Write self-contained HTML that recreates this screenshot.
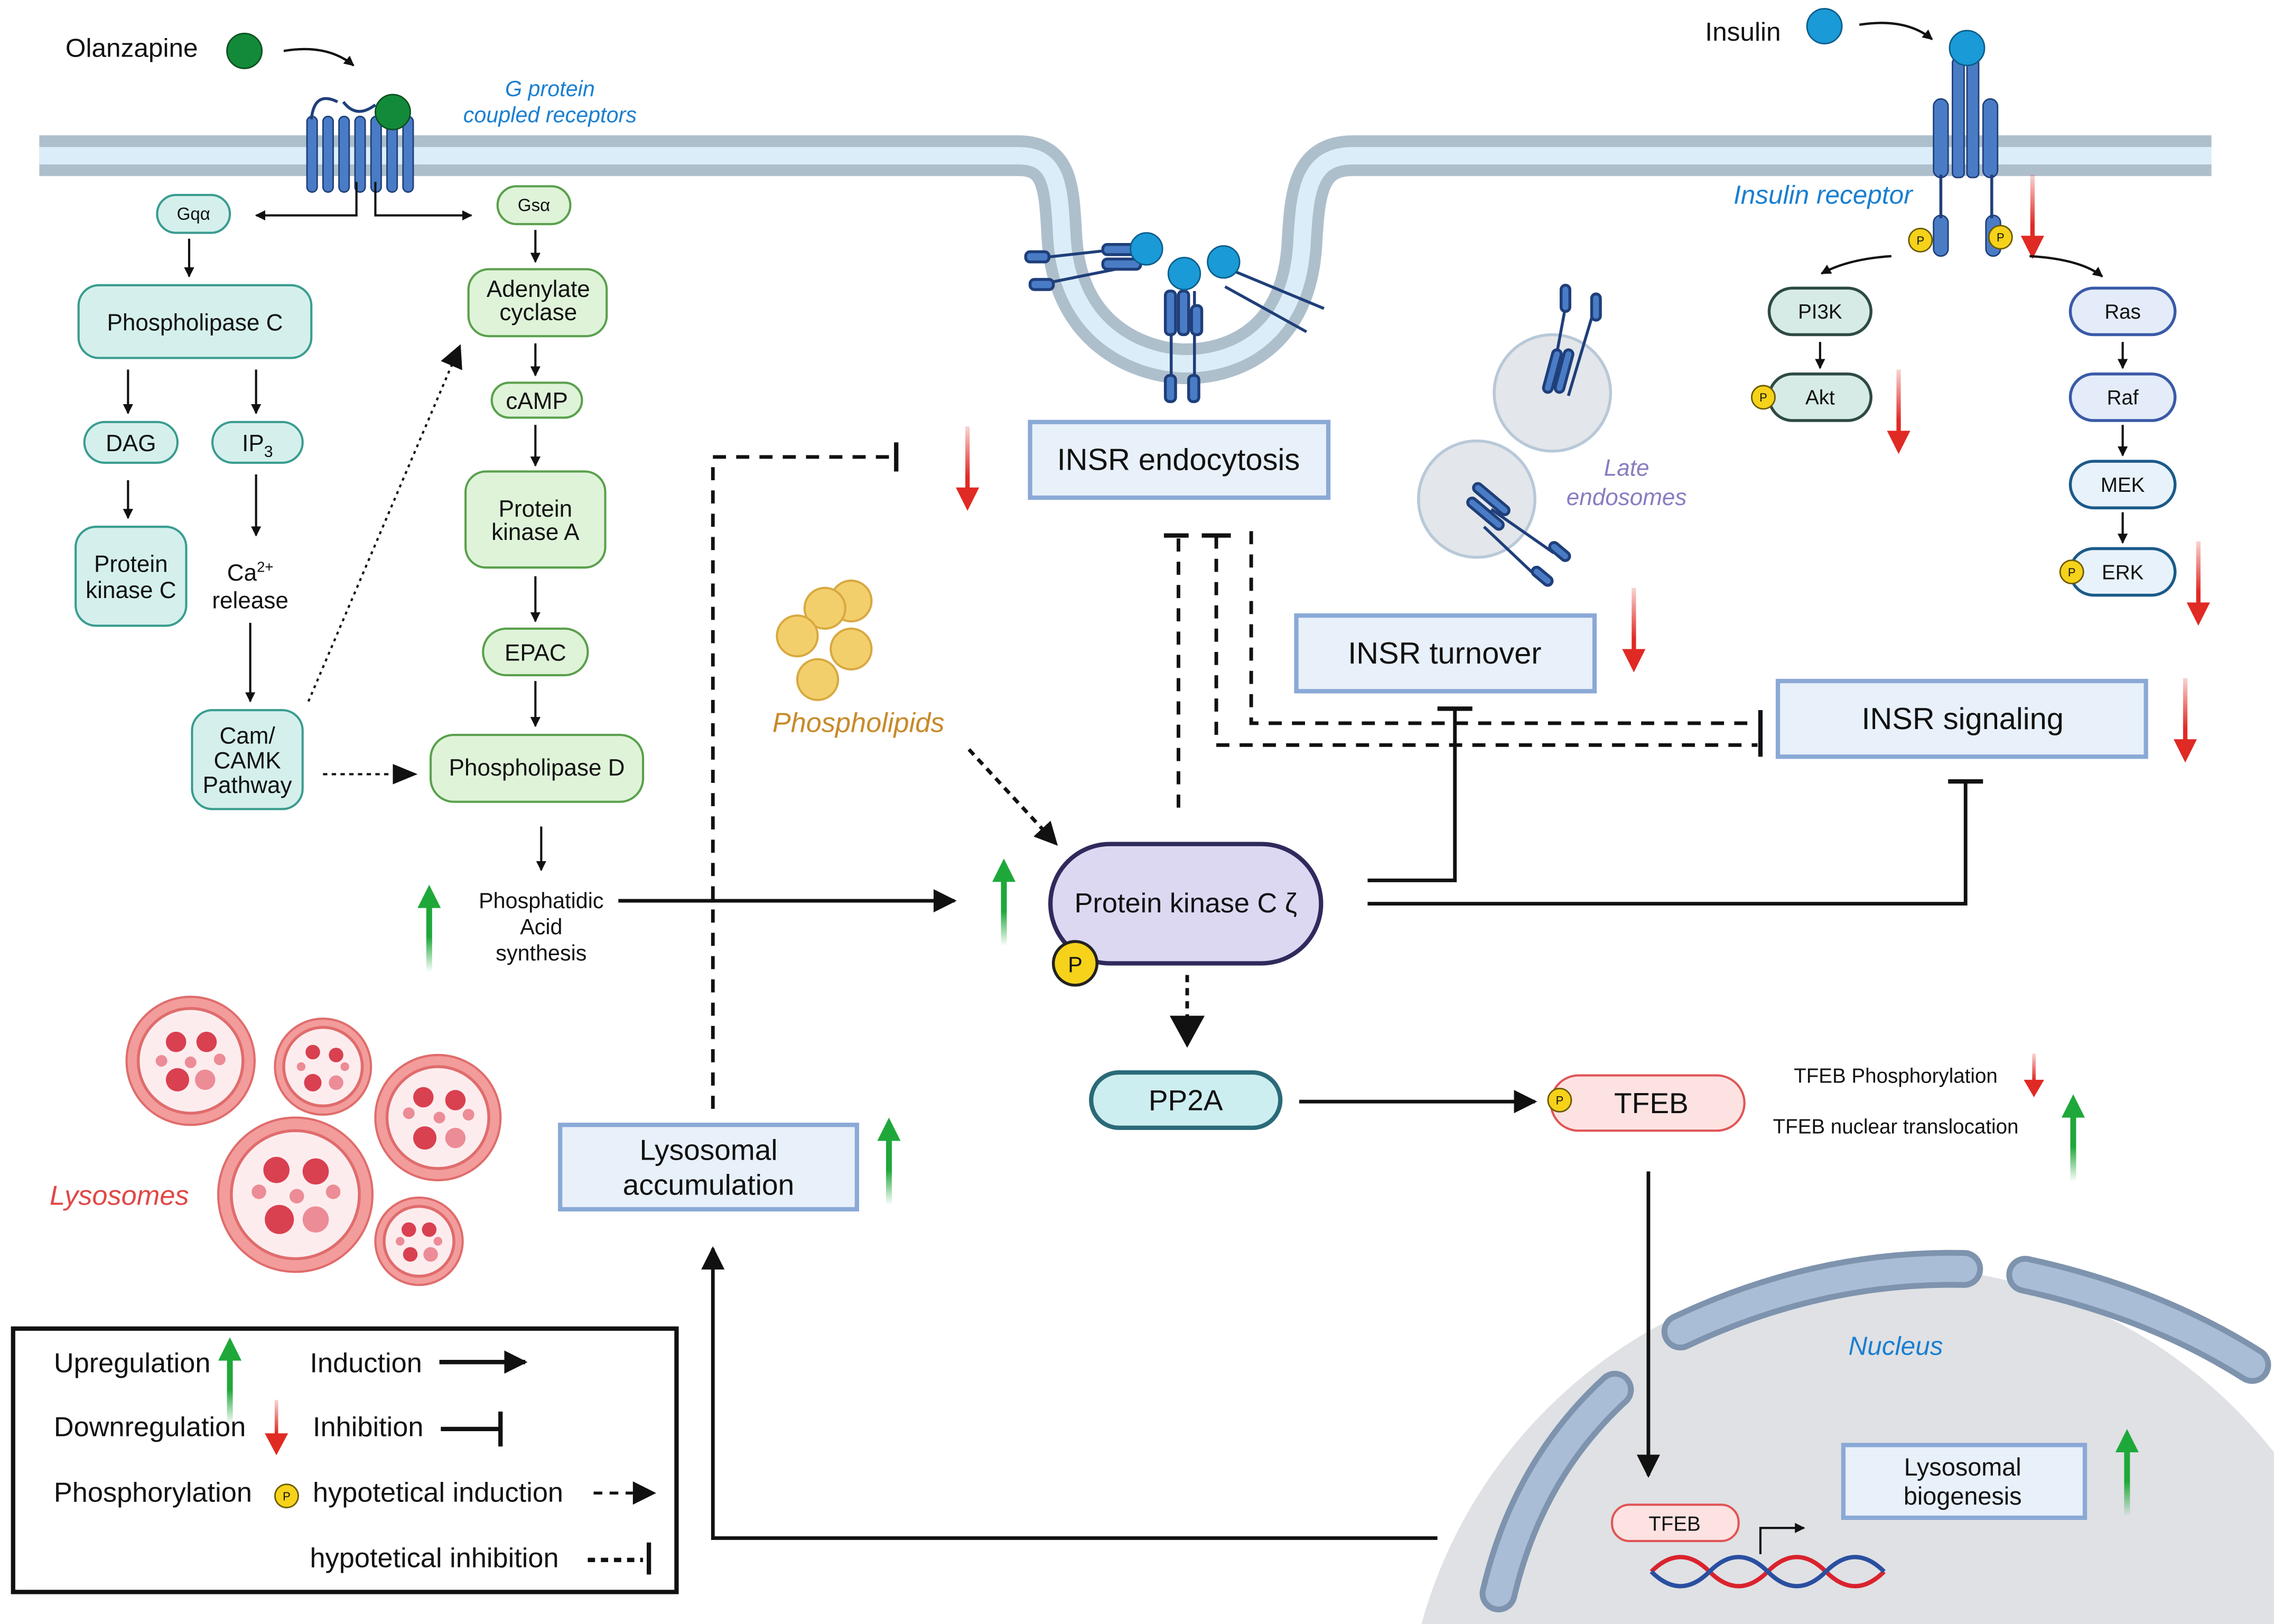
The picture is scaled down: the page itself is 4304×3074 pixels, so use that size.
<!DOCTYPE html>
<html><head><meta charset="utf-8"><style>
html,body{margin:0;padding:0;background:#fff;width:4304px;height:3074px;overflow:hidden}
svg{display:block}
text{font-family:"Liberation Sans",sans-serif;fill:#111}
</style></head><body>
<svg width="4304" height="3074" viewBox="0 0 1563 1116" preserveAspectRatio="none" xmlns="http://www.w3.org/2000/svg" style="overflow:hidden">
<defs>
<marker id="a" viewBox="0 0 10 10" refX="9" refY="5" markerWidth="7" markerHeight="7" markerUnits="userSpaceOnUse" orient="auto"><path d="M0,0L10,5L0,10z" fill="#111"/></marker>
<marker id="A" viewBox="0 0 10 10" refX="9" refY="5" markerWidth="16" markerHeight="16" markerUnits="userSpaceOnUse" orient="auto"><path d="M0,0L10,5L0,10z" fill="#111"/></marker>
<linearGradient id="gu" x1="0" y1="1" x2="0" y2="0"><stop offset="0" stop-color="#1fa83a" stop-opacity="0"/><stop offset="0.4" stop-color="#1fa83a"/></linearGradient>
<linearGradient id="rd" x1="0" y1="0" x2="0" y2="1"><stop offset="0" stop-color="#e02a24" stop-opacity="0.2"/><stop offset="0.6" stop-color="#e02a24"/></linearGradient>
<g id="up"><path d="M0,0 L-8,16 L-2,16 L-2,60 L2,60 L2,16 L8,16z" fill="url(#gu)"/></g>
<g id="dn"><path d="M-1.5,0 L1.5,0 L1.5,42 L8,42 L0,58 L-8,42 L-1.5,42z" fill="url(#rd)"/></g>
<g id="dns"><path d="M-1.2,0 L1.2,0 L1.2,18 L7,18 L0,30 L-7,18 L-1.2,18z" fill="url(#rd)"/></g>
<g id="P"><circle r="8" fill="#f6d21a" stroke="#6b5a00" stroke-width="1"/><text y="3" font-size="8" text-anchor="middle">P</text></g>
</defs>

<!-- Nucleus -->
<path d="M977,1116 A335,335 0 0 1 1563,998 L1563,1116 Z" fill="#dfe1e4"/>
<g fill="none" stroke-linecap="round">
<path d="M1030,1095 Q1050,1010 1110,955" stroke="#7e93ad" stroke-width="26"/>
<path d="M1030,1095 Q1050,1010 1110,955" stroke="#a9bdd6" stroke-width="18"/>
<path d="M1155,915 Q1250,870 1350,872" stroke="#7e93ad" stroke-width="26"/>
<path d="M1155,915 Q1250,870 1350,872" stroke="#a9bdd6" stroke-width="18"/>
<path d="M1392,876 Q1480,895 1548,938" stroke="#7e93ad" stroke-width="26"/>
<path d="M1392,876 Q1480,895 1548,938" stroke="#a9bdd6" stroke-width="18"/>
</g>
<text x="1303" y="931" font-size="18" font-style="italic" text-anchor="middle" style="fill:#1a7fd0">Nucleus</text>

<!-- Membrane -->
<g fill="none">
<path d="M27,107 L700,107 C728,107 728,130 730,165 C735,235 790,250 815,250 C845,250 892,235 895,165 C897,130 900,107 930,107 L1520,107" stroke="#aebfcc" stroke-width="28"/>
<path d="M27,107 L700,107 C728,107 728,130 730,165 C735,235 790,250 815,250 C845,250 892,235 895,165 C897,130 900,107 930,107 L1520,107" stroke="#dcedfa" stroke-width="12"/>
</g>

<!-- GPCR -->
<g fill="#4a7cc6" stroke="#1f3f7a" stroke-width="1">
<rect x="211" y="80" width="7" height="52" rx="3.5"/><rect x="222" y="80" width="7" height="52" rx="3.5"/><rect x="233" y="80" width="7" height="52" rx="3.5"/><rect x="244" y="80" width="7" height="52" rx="3.5"/><rect x="255" y="80" width="7" height="52" rx="3.5"/><rect x="266" y="80" width="7" height="52" rx="3.5"/><rect x="277" y="80" width="7" height="52" rx="3.5"/>
</g>
<path d="M214,82 Q216,62 232,70 M236,70 Q245,82 258,72" stroke="#1f3f7a" stroke-width="2" fill="none"/>
<circle cx="270" cy="77" r="12" fill="#138a3a" stroke="#0b4f20"/>
<text x="45" y="39" font-size="18">Olanzapine</text>
<circle cx="168" cy="35" r="12" fill="#138a3a" stroke="#0b4f20"/>
<path d="M195,35 Q225,30 243,45" stroke="#111" stroke-width="1.6" fill="none" marker-end="url(#a)"/>
<text x="378" y="66" font-size="15" font-style="italic" text-anchor="middle" style="fill:#1a7fd0">G protein</text>
<text x="378" y="84" font-size="15" font-style="italic" text-anchor="middle" style="fill:#1a7fd0">coupled receptors</text>

<!-- Insulin receptor -->
<text x="1172" y="28" font-size="18">Insulin</text>
<circle cx="1254" cy="18" r="12" fill="#1a9ad6" stroke="#0d5c8a"/>
<path d="M1278,17 Q1310,12 1328,27" stroke="#111" stroke-width="1.6" fill="none" marker-end="url(#a)"/>
<g fill="#4a7cc6" stroke="#1f3f7a" stroke-width="1">
<rect x="1342" y="40" width="8" height="82" rx="3"/><rect x="1352" y="40" width="8" height="82" rx="3"/>
<rect x="1329" y="68" width="10" height="54" rx="5"/><rect x="1363" y="68" width="10" height="54" rx="5"/>
<rect x="1329" y="148" width="10" height="28" rx="5"/><rect x="1365" y="148" width="10" height="28" rx="5"/>
</g>
<path d="M1334,120 V150 M1369,120 V150" stroke="#1f3f7a" stroke-width="2"/>
<circle cx="1352" cy="33" r="12" fill="#1a9ad6" stroke="#0d5c8a"/>
<use href="#P" x="1320" y="165"/><use href="#P" x="1375" y="163"/>
<text x="1253" y="140" font-size="18" font-style="italic" text-anchor="middle" style="fill:#1a7fd0">Insulin receptor</text>
<use href="#dn" x="1397" y="120"/>
<path d="M1300,176 Q1270,178 1252,188" stroke="#111" stroke-width="1.6" fill="none" marker-end="url(#a)"/>
<path d="M1395,176 Q1430,178 1445,190" stroke="#111" stroke-width="1.6" fill="none" marker-end="url(#a)"/>

<!-- endocytosis receptors -->
<g stroke="#1f3f7a" stroke-width="2" fill="#4a7cc6">
<line x1="708" y1="178" x2="780" y2="170"/><line x1="712" y1="196" x2="782" y2="182"/>
<rect x="758" y="168" width="26" height="7" rx="3"/><rect x="758" y="178" width="26" height="7" rx="3"/>
<line x1="805" y1="200" x2="805" y2="272"/><line x1="821" y1="200" x2="821" y2="272"/>
<rect x="801" y="200" width="7" height="30" rx="3"/><rect x="810" y="200" width="7" height="30" rx="3"/><rect x="819" y="210" width="7" height="20" rx="3"/>
<rect x="801" y="258" width="7" height="18" rx="3"/><rect x="817" y="258" width="7" height="18" rx="3"/>
<line x1="845" y1="185" x2="910" y2="212"/><line x1="842" y1="197" x2="898" y2="228"/>
<rect x="705" y="173" width="16" height="7" rx="3"/><rect x="708" y="192" width="16" height="7" rx="3"/>
</g>
<circle cx="788" cy="171" r="11" fill="#1a9ad6" stroke="#0d5c8a"/>
<circle cx="814" cy="188" r="11" fill="#1a9ad6" stroke="#0d5c8a"/>
<circle cx="841" cy="180" r="11" fill="#1a9ad6" stroke="#0d5c8a"/>

<!-- late endosomes -->
<circle cx="1067" cy="270" r="40" fill="#e3e6ea" stroke="#b8c8d8" stroke-width="2"/>
<circle cx="1015" cy="343" r="40" fill="#e3e6ea" stroke="#b8c8d8" stroke-width="2"/>
<g stroke="#1f3f7a" stroke-width="2" fill="#4a7cc6">
<line x1="1078" y1="200" x2="1065" y2="270"/><line x1="1098" y1="205" x2="1078" y2="272"/>
<rect x="1073" y="196" width="6" height="18" rx="3"/><rect x="1094" y="202" width="6" height="18" rx="3"/>
<rect x="1064" y="240" width="6" height="30" rx="3" transform="rotate(15 1067 255)"/><rect x="1072" y="240" width="6" height="30" rx="3" transform="rotate(15 1075 255)"/>
<line x1="1025" y1="350" x2="1068" y2="380"/><line x1="1020" y1="362" x2="1058" y2="398"/>
<rect x="1010" y="340" width="30" height="6" rx="3" transform="rotate(40 1025 343)"/><rect x="1006" y="350" width="30" height="6" rx="3" transform="rotate(40 1021 353)"/>
<rect x="1064" y="376" width="16" height="6" rx="3" transform="rotate(40 1072 379)"/><rect x="1052" y="393" width="16" height="6" rx="3" transform="rotate(40 1060 396)"/>
</g>
<text x="1118" y="327" font-size="16" font-style="italic" text-anchor="middle" style="fill:#8a7cc0">Late</text>
<text x="1118" y="347" font-size="16" font-style="italic" text-anchor="middle" style="fill:#8a7cc0">endosomes</text>

<!-- left teal column -->
<g fill="#d5f0ec" stroke="#3a9c90" stroke-width="1.5">
<rect x="108" y="134" width="50" height="26" rx="13"/>
<rect x="54" y="196" width="160" height="50" rx="14"/>
<rect x="58" y="290" width="64" height="28" rx="14"/>
<rect x="146" y="290" width="62" height="28" rx="14"/>
<rect x="52" y="362" width="76" height="68" rx="14"/>
<rect x="132" y="488" width="76" height="68" rx="14"/>
</g>
<text x="133" y="151" font-size="12" text-anchor="middle">Gqα</text>
<text x="134" y="227" font-size="16" text-anchor="middle">Phospholipase C</text>
<text x="90" y="310" font-size="16" text-anchor="middle">DAG</text>
<text x="177" y="310" font-size="16" text-anchor="middle">IP<tspan font-size="11" dy="4">3</tspan></text>
<text x="90" y="393" font-size="16" text-anchor="middle">Protein</text>
<text x="90" y="411" font-size="16" text-anchor="middle">kinase C</text>
<text x="170" y="511" font-size="16" text-anchor="middle">Cam/</text>
<text x="170" y="528" font-size="16" text-anchor="middle">CAMK</text>
<text x="170" y="545" font-size="16" text-anchor="middle">Pathway</text>
<text x="172" y="399" font-size="16" text-anchor="middle">Ca<tspan font-size="10" dy="-6">2+</tspan></text>
<text x="172" y="418" font-size="16" text-anchor="middle">release</text>

<!-- green column -->
<g fill="#dff3d9" stroke="#5aa04c" stroke-width="1.5">
<rect x="342" y="128" width="50" height="26" rx="13"/>
<rect x="322" y="185" width="95" height="46" rx="14"/>
<rect x="338" y="263" width="62" height="24" rx="12"/>
<rect x="320" y="324" width="96" height="66" rx="14"/>
<rect x="332" y="432" width="72" height="32" rx="16"/>
<rect x="296" y="505" width="146" height="46" rx="16"/>
</g>
<text x="367" y="145" font-size="12" text-anchor="middle">Gsα</text>
<text x="370" y="204" font-size="16" text-anchor="middle">Adenylate</text>
<text x="370" y="220" font-size="16" text-anchor="middle">cyclase</text>
<text x="369" y="281" font-size="16" text-anchor="middle">cAMP</text>
<text x="368" y="355" font-size="16" text-anchor="middle">Protein</text>
<text x="368" y="371" font-size="16" text-anchor="middle">kinase A</text>
<text x="368" y="454" font-size="16" text-anchor="middle">EPAC</text>
<text x="369" y="533" font-size="16" text-anchor="middle">Phospholipase D</text>
<text x="372" y="624" font-size="15" text-anchor="middle">Phosphatidic</text>
<text x="372" y="642" font-size="15" text-anchor="middle">Acid</text>
<text x="372" y="660" font-size="15" text-anchor="middle">synthesis</text>

<!-- small arrows -->
<g stroke="#111" stroke-width="1.5" fill="none" marker-end="url(#a)">
<path d="M245,125 V148 H176"/><path d="M258,125 V148 H324"/>
<path d="M130,164 V190"/><path d="M88,254 V284"/><path d="M176,254 V284"/>
<path d="M88,330 V356"/><path d="M176,326 V368"/><path d="M172,428 V482"/>
<path d="M368,158 V180"/><path d="M368,236 V258"/><path d="M368,292 V320"/>
<path d="M368,396 V427"/><path d="M368,468 V499"/><path d="M372,568 V598"/>
<path d="M1251,235 V253"/><path d="M1459,235 V253"/><path d="M1459,292 V313"/><path d="M1459,352 V373"/>
<path d="M212,482 L316,238" stroke-dasharray="2,3" marker-end="url(#A)"/>
</g>
<path d="M222,532 H270" stroke="#111" stroke-width="1.5" stroke-dasharray="3,3" fill="none"/>
<path d="M270,525 L287,532 L270,539z" fill="#111"/>

<!-- right path pills -->
<g stroke-width="2">
<rect x="1216" y="198" width="70" height="32" rx="16" fill="#d7ebe6" stroke="#2e4a44"/>
<rect x="1216" y="257" width="70" height="32" rx="16" fill="#d7ebe6" stroke="#2e4a44"/>
<rect x="1423" y="198" width="72" height="32" rx="16" fill="#e3ecf8" stroke="#3a5aa8"/>
<rect x="1423" y="257" width="72" height="32" rx="16" fill="#e3ecf8" stroke="#3a5aa8"/>
<rect x="1423" y="317" width="72" height="32" rx="16" fill="#e8f2fa" stroke="#1b5a8a"/>
<rect x="1423" y="377" width="72" height="32" rx="16" fill="#e8f2fa" stroke="#1b5a8a"/>
</g>
<text x="1251" y="219" font-size="14" text-anchor="middle">PI3K</text>
<text x="1251" y="278" font-size="14" text-anchor="middle">Akt</text>
<text x="1459" y="219" font-size="14" text-anchor="middle">Ras</text>
<text x="1459" y="278" font-size="14" text-anchor="middle">Raf</text>
<text x="1459" y="338" font-size="14" text-anchor="middle">MEK</text>
<text x="1459" y="398" font-size="14" text-anchor="middle">ERK</text>
<use href="#P" x="1212" y="273"/><use href="#P" x="1424" y="393"/>

<!-- blue boxes -->
<g fill="#e8f0fa" stroke="#8aa9d6" stroke-width="3">
<rect x="708" y="290" width="205" height="52"/>
<rect x="891" y="423" width="205" height="52"/>
<rect x="1222" y="468" width="253" height="52"/>
<rect x="385" y="773" width="204" height="58"/>
<rect x="1267" y="993" width="166" height="50"/>
</g>
<text x="810" y="323" font-size="21" text-anchor="middle">INSR endocytosis</text>
<text x="993" y="456" font-size="21" text-anchor="middle">INSR turnover</text>
<text x="1349" y="501" font-size="21" text-anchor="middle">INSR signaling</text>
<text x="487" y="797" font-size="20" text-anchor="middle">Lysosomal</text>
<text x="487" y="821" font-size="20" text-anchor="middle">accumulation</text>
<text x="1349" y="1014" font-size="17" text-anchor="middle">Lysosomal</text>
<text x="1349" y="1034" font-size="17" text-anchor="middle">biogenesis</text>

<!-- Phospholipids -->
<g fill="#f3cf6c" stroke="#d8a940" stroke-width="1.5">
<circle cx="585" cy="413" r="14"/><circle cx="567" cy="418" r="14"/><circle cx="548" cy="437" r="14"/><circle cx="585" cy="446" r="14"/><circle cx="562" cy="467" r="14"/>
</g>
<text x="590" y="503" font-size="19" font-style="italic" text-anchor="middle" style="fill:#c88a2a">Phospholipids</text>
<path d="M666,515 L726,580" stroke="#111" stroke-width="2.5" stroke-dasharray="5,4" fill="none" marker-end="url(#A)"/>

<!-- PKC zeta -->
<rect x="722" y="580" width="186" height="82" rx="41" fill="#dcd8f2" stroke="#2f2a5c" stroke-width="3"/>
<text x="815" y="627" font-size="19" text-anchor="middle">Protein kinase C ζ</text>
<circle cx="739" cy="662" r="15" fill="#f6d21a" stroke="#222" stroke-width="2"/>
<text x="739" y="668" font-size="15" text-anchor="middle">P</text>

<path d="M425,619 H656" stroke="#111" stroke-width="2.5" fill="none" marker-end="url(#A)"/>

<!-- PP2A, TFEB -->
<rect x="750" y="737" width="130" height="38" rx="19" fill="#cdeef0" stroke="#2a6a78" stroke-width="3"/>
<text x="815" y="763" font-size="20" text-anchor="middle">PP2A</text>
<path d="M816,670 V700" stroke="#111" stroke-width="2.5" stroke-dasharray="5,4"/>
<path d="M804,698 L828,698 L816,720z" fill="#111"/>
<rect x="1066" y="739" width="133" height="38" rx="19" fill="#fde2e2" stroke="#e05555" stroke-width="1.5"/>
<text x="1135" y="765" font-size="20" text-anchor="middle">TFEB</text>
<use href="#P" x="1072" y="756"/>
<path d="M893,757 H1055" stroke="#111" stroke-width="2.5" fill="none" marker-end="url(#A)"/>
<text x="1303" y="744" font-size="14" text-anchor="middle">TFEB Phosphorylation</text>
<text x="1303" y="779" font-size="14" text-anchor="middle">TFEB nuclear translocation</text>
<path d="M1133,805 V1014" stroke="#111" stroke-width="2.5" fill="none" marker-end="url(#A)"/>

<!-- nucleus TFEB + DNA -->
<rect x="1108" y="1034" width="87" height="25" rx="12" fill="#fde2e2" stroke="#e05555" stroke-width="1.5"/>
<text x="1151" y="1052" font-size="14" text-anchor="middle">TFEB</text>
<path d="M1210,1068 V1050 H1240" stroke="#111" stroke-width="1.5" fill="none" marker-end="url(#a)"/>
<path d="M1135,1080 Q1155,1060 1175,1080 T1215,1080 T1255,1080 T1295,1080" stroke="#d9232e" stroke-width="3" fill="none"/>
<path d="M1135,1080 Q1155,1100 1175,1080 T1215,1080 T1255,1080 T1295,1080" stroke="#2a4fa0" stroke-width="3" fill="none"/>

<!-- feedback arrows -->
<path d="M988,1057 H490 V858" stroke="#111" stroke-width="2.5" fill="none" marker-end="url(#A)"/>
<path d="M490,762 V314 H614" stroke="#111" stroke-width="2.5" stroke-dasharray="9,7" fill="none"/>
<path d="M616,304 V324" stroke="#111" stroke-width="3"/>
<g stroke="#111" stroke-width="2.5" fill="none" stroke-dasharray="9,7">
<path d="M810,555 V368"/><path d="M836,368 V512 H1208"/><path d="M860,365 V497 H1208"/>
</g>
<path d="M800,368 H817 M826,368 H846" stroke="#111" stroke-width="3"/>
<path d="M1210,488 V520" stroke="#111" stroke-width="3"/>
<path d="M940,605 H1000 V487" stroke="#111" stroke-width="2.5" fill="none"/>
<path d="M988,487 H1012" stroke="#111" stroke-width="3"/>
<path d="M940,621 H1351 V537" stroke="#111" stroke-width="2.5" fill="none"/>
<path d="M1339,537 H1363" stroke="#111" stroke-width="3"/>

<!-- up/down arrows -->
<use href="#up" x="295" y="608"/><use href="#up" x="690" y="590"/><use href="#up" x="611" y="768"/>
<use href="#up" x="1425" y="752"/><use href="#up" x="1462" y="982"/>
<use href="#dn" x="665" y="293"/><use href="#dn" x="1305" y="254"/><use href="#dn" x="1511" y="372"/>
<use href="#dn" x="1123" y="404"/><use href="#dn" x="1502" y="466"/>
<use href="#dns" x="1398" y="724"/>

<!-- lysosomes -->
<g>
<g transform="translate(131,729)"><circle r="44" fill="#f39c9c" stroke="#e06c6c" stroke-width="1.5"/><circle r="36" fill="#fdecee" stroke="#e06c6c" stroke-width="2"/><circle cx="-10" cy="-13" r="7" fill="#d94050"/><circle cx="11" cy="-13" r="7" fill="#d94050"/><circle cx="-9" cy="13" r="8" fill="#d94050"/><circle cx="10" cy="13" r="7" fill="#ec8c96"/><circle cx="-20" cy="0" r="4" fill="#ec8c96"/><circle cx="0" cy="1" r="4" fill="#ec8c96"/><circle cx="20" cy="-1" r="4" fill="#ec8c96"/></g>
<g transform="translate(222,733)"><circle r="33" fill="#f39c9c" stroke="#e06c6c" stroke-width="1.5"/><circle r="27" fill="#fdecee" stroke="#e06c6c" stroke-width="2"/><circle cx="-7" cy="-10" r="5" fill="#d94050"/><circle cx="9" cy="-8" r="5" fill="#d94050"/><circle cx="-7" cy="11" r="6" fill="#d94050"/><circle cx="9" cy="11" r="5" fill="#ec8c96"/><circle cx="-15" cy="0" r="3" fill="#ec8c96"/><circle cx="15" cy="0" r="3" fill="#ec8c96"/></g>
<g transform="translate(301,768)"><circle r="43" fill="#f39c9c" stroke="#e06c6c" stroke-width="1.5"/><circle r="35" fill="#fdecee" stroke="#e06c6c" stroke-width="2"/><circle cx="-10" cy="-14" r="7" fill="#d94050"/><circle cx="12" cy="-12" r="7" fill="#d94050"/><circle cx="-9" cy="14" r="8" fill="#d94050"/><circle cx="12" cy="14" r="7" fill="#ec8c96"/><circle cx="-20" cy="-3" r="4" fill="#ec8c96"/><circle cx="1" cy="0" r="4" fill="#ec8c96"/><circle cx="21" cy="-2" r="4" fill="#ec8c96"/></g>
<g transform="translate(203,821)"><circle r="53" fill="#f39c9c" stroke="#e06c6c" stroke-width="1.5"/><circle r="44" fill="#fdecee" stroke="#e06c6c" stroke-width="2"/><circle cx="-13" cy="-17" r="9" fill="#d94050"/><circle cx="14" cy="-16" r="9" fill="#d94050"/><circle cx="-11" cy="17" r="10" fill="#d94050"/><circle cx="14" cy="17" r="9" fill="#ec8c96"/><circle cx="-25" cy="-2" r="5" fill="#ec8c96"/><circle cx="1" cy="1" r="5" fill="#ec8c96"/><circle cx="26" cy="-2" r="5" fill="#ec8c96"/></g>
<g transform="translate(288,853)"><circle r="30" fill="#f39c9c" stroke="#e06c6c" stroke-width="1.5"/><circle r="24" fill="#fdecee" stroke="#e06c6c" stroke-width="2"/><circle cx="-7" cy="-8" r="5" fill="#d94050"/><circle cx="7" cy="-8" r="5" fill="#d94050"/><circle cx="-6" cy="9" r="5" fill="#d94050"/><circle cx="8" cy="9" r="5" fill="#ec8c96"/><circle cx="-13" cy="0" r="3" fill="#ec8c96"/><circle cx="13" cy="0" r="3" fill="#ec8c96"/></g>
</g>
<text x="82" y="828" font-size="19" font-style="italic" text-anchor="middle" style="fill:#e04848">Lysosomes</text>

<!-- legend -->
<rect x="9" y="913" width="456" height="181" fill="none" stroke="#111" stroke-width="3"/>
<text x="37" y="943" font-size="19">Upregulation</text>
<use href="#up" x="158" y="919"/>
<text x="213" y="943" font-size="19">Induction</text>
<path d="M302,936 H361" stroke="#111" stroke-width="3" fill="none" marker-end="url(#A)"/>
<text x="37" y="987" font-size="19">Downregulation</text>
<path d="M188.8,962 L191.2,962 L191.2,985 L198,985 L190,1000 L182,985 L188.8,985z" fill="url(#rd)"/>
<text x="215" y="987" font-size="19">Inhibition</text>
<path d="M303,982 H343 M344,970 V994" stroke="#111" stroke-width="3" fill="none"/>
<text x="37" y="1032" font-size="19">Phosphorylation</text>
<use href="#P" x="197" y="1028"/>
<text x="215" y="1032" font-size="19">hypotetical induction</text>
<path d="M408,1026 H435" stroke="#111" stroke-width="2" stroke-dasharray="6,5" fill="none"/>
<path d="M435,1018 L451,1026 L435,1034z" fill="#111"/>
<text x="213" y="1077" font-size="19">hypotetical inhibition</text>
<path d="M404,1072 H442" stroke="#111" stroke-width="3" stroke-dasharray="5,4" fill="none"/>
<path d="M446,1060 V1082" stroke="#111" stroke-width="3"/>
</svg>
</body></html>
